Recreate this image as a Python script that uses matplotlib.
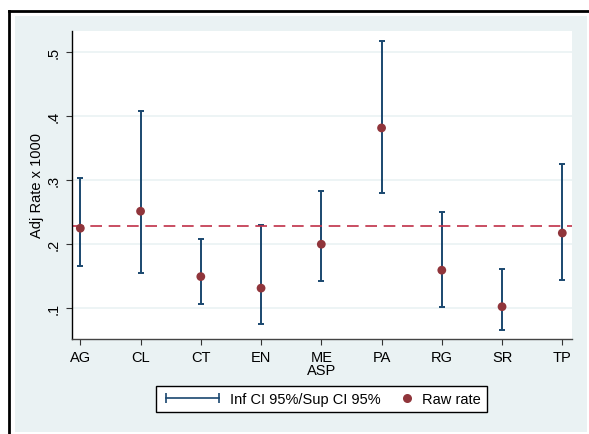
import numpy as np
import matplotlib
matplotlib.use("Agg")
import matplotlib.pyplot as plt
from matplotlib.patches import Rectangle
from matplotlib.lines import Line2D
from matplotlib.legend_handler import HandlerLine2D

plt.rcParams["font.family"] = ["Liberation Sans", "DejaVu Sans"]

# ---------------------------------------------------------------------------
# Data
# ---------------------------------------------------------------------------
categories = ["AG", "CL", "CT", "EN", "ME\nASP", "PA", "RG", "SR", "TP"]
raw_rate   = [0.2245, 0.251, 0.149, 0.131, 0.1995, 0.381, 0.159, 0.102, 0.217]
ci_low     = [0.166, 0.155, 0.106, 0.075, 0.142, 0.280, 0.101, 0.066, 0.144]
ci_high    = [0.303, 0.407, 0.207, 0.229, 0.282, 0.517, 0.250, 0.161, 0.325]
ref_rate   = 0.2276
y_ticks    = [0.1, 0.2, 0.3, 0.4, 0.5]
y_ticklabels = [".1", ".2", ".3", ".4", ".5"]

# ---------------------------------------------------------------------------
# Stata s2color-like palette
# ---------------------------------------------------------------------------
BG     = "#EAF2F3"
NAVY   = "#1A476F"
MAROON = "#90353B"
DASH   = "#C03048"
GRID   = "#EAF2F3"
FS     = 10.5

W, H = 589, 435


class WideHandler(HandlerLine2D):
    """Line handle with its own width (in font-size units)."""
    def __init__(self, length, **kw):
        super().__init__(**kw)
        self.length = length

    def legend_artist(self, legend, orig_handle, fontsize, handlebox):
        handlebox.width = self.length * fontsize
        return super().legend_artist(legend, orig_handle, fontsize, handlebox)


fig = plt.figure(figsize=(W / 100, H / 100), dpi=100)
fig.patch.set_facecolor("white")

# outer graph region (light blue-grey) and black frame on top/left
fig.patches.append(Rectangle((15 / W, 1 - 433 / H), (587 - 15) / W, (433 - 17) / H,
                             transform=fig.transFigure, facecolor=BG,
                             edgecolor="none", zorder=-2))
fig.lines.append(Line2D([9 / W, 1], [1 - 12 / H, 1 - 12 / H], transform=fig.transFigure,
                        color="black", linewidth=2, zorder=-1))
fig.lines.append(Line2D([9 / W, 9 / W], [0, 1 - 12 / H], transform=fig.transFigure,
                        color="black", linewidth=2, zorder=-1))

ax = fig.add_axes([71.7 / W, 1 - 340 / H, (571.7 - 71.7) / W, (340 - 32) / H])
ax.set_zorder(1)
ax.set_facecolor("white")

x = np.arange(1, len(categories) + 1)
for t in y_ticks:
    ax.axhline(t, color=GRID, linewidth=1.2, zorder=0)

ax.vlines(x, ci_low, ci_high, color=NAVY, linewidth=1.4, zorder=2)
ax.scatter(x, ci_low, marker="_", s=24, color=NAVY, linewidths=1.4, zorder=2)
ax.scatter(x, ci_high, marker="_", s=24, color=NAVY, linewidths=1.4, zorder=2)
ax.scatter(x, raw_rate, s=40, color=MAROON, edgecolors="none", zorder=3)
ax.axhline(ref_rate, color=DASH, linewidth=1.2, dashes=(7, 4), zorder=2.5)

ax.set_xlim(0.857, 9.156)
ax.set_ylim(0.0516, 0.5323)
ax.set_xticks(x)
ax.set_xticklabels(categories, fontsize=FS, linespacing=0.9)
ax.set_yticks(y_ticks)
ax.set_yticklabels(y_ticklabels, fontsize=FS, rotation=90, va="center")
ax.tick_params(axis="both", direction="out", length=4.2, width=0.8, color="#333333", pad=3.5)
ax.set_ylabel("Adj Rate x 1000", fontsize=FS, labelpad=2)

for s in ["top", "right"]:
    ax.spines[s].set_visible(False)
ax.spines["left"].set_color("black")
ax.spines["bottom"].set_color("#444444")
for s in ["left", "bottom"]:
    ax.spines[s].set_linewidth(1.0)

ci_handle = Line2D([], [], color=NAVY, linewidth=1.2, marker="|", markersize=7,
                   markeredgewidth=1.2)
pt_handle = Line2D([], [], color=MAROON, linestyle="none", marker="o", markersize=6.5,
                   markeredgewidth=0)
leg = fig.legend([ci_handle, pt_handle], ["Inf CI 95%/Sup CI 95%", "Raw rate"],
                 loc="center", bbox_to_anchor=(321.3 / W, 1 - 400 / H), ncol=2,
                 handler_map={ci_handle: WideHandler(4.2, numpoints=2),
                              pt_handle: HandlerLine2D(numpoints=1)},
                 fontsize=FS, handlelength=1.0,
                 fancybox=False, framealpha=1, edgecolor="black",
                 borderpad=0.4, columnspacing=1.3, handletextpad=0.5)
leg.get_frame().set_linewidth(1.0)

fig.savefig("out.png", dpi=100, facecolor=fig.get_facecolor())
